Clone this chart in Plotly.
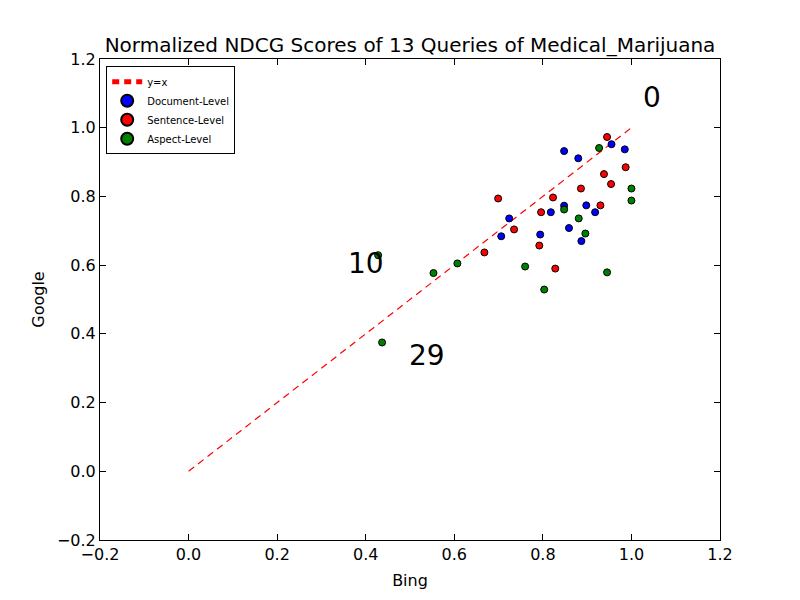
import plotly.graph_objects as go

# scores (Bing vs Google)
doc_bing = [0.848, 0.880, 0.955, 0.985, 0.724, 0.706, 0.818, 0.848, 0.898, 0.918, 0.859, 0.794, 0.887]
doc_google = [0.932, 0.911, 0.952, 0.937, 0.736, 0.684, 0.754, 0.773, 0.774, 0.754, 0.708, 0.689, 0.670]

sent_bing = [0.945, 0.987, 0.938, 0.954, 0.886, 0.823, 0.699, 0.796, 0.930, 0.735, 0.792, 0.828, 0.668]
sent_google = [0.973, 0.885, 0.865, 0.836, 0.823, 0.797, 0.794, 0.754, 0.774, 0.704, 0.657, 0.590, 0.637]

asp_bing = [0.927, 1.000, 1.000, 0.848, 0.881, 0.896, 0.760, 0.803, 0.945, 0.428, 0.553, 0.607, 0.437]
asp_google = [0.941, 0.823, 0.788, 0.762, 0.736, 0.692, 0.596, 0.529, 0.579, 0.629, 0.577, 0.605, 0.375]

line_x = [0, 1]
line_y = [0, 1]

labels = ["0", "10", "29"]
label_x = [1.047, 0.4005, 0.538]
label_y = [1.088, 0.606, 0.338]

ticks = [-0.2, 0.0, 0.2, 0.4, 0.6, 0.8, 1.0, 1.2]

fig = go.Figure()
fig.add_trace(go.Scatter(x=line_x, y=line_y, mode="lines", name="y=x",
                         line=dict(color="red", dash="7px,5px", width=1.2)))

def pts(x, y, name, color):
    return go.Scatter(x=x, y=y, mode="markers", name=name,
                      marker=dict(color=color, size=7, line=dict(color="black", width=1)))

fig.add_trace(pts(doc_bing, doc_google, "Document-Level", "#0000ff"))
fig.add_trace(pts(sent_bing, sent_google, "Sentence-Level", "#ff0000"))
fig.add_trace(pts(asp_bing, asp_google, "Aspect-Level", "#008000"))

for t, x, y in zip(labels, label_x, label_y):
    fig.add_annotation(x=x, y=y, text=t, showarrow=False,
                       font=dict(size=28, color="black"))

axis = dict(range=[-0.2, 1.2], tickvals=ticks, tickformat=".1f", ticks="inside",
            ticklen=6, tickcolor="black", showline=True, linecolor="black",
            linewidth=1, mirror="ticks", showgrid=False, zeroline=False,
            automargin=False, tickfont=dict(size=16, color="black"))

fig.update_layout(
    width=800, height=600,
    paper_bgcolor="white", plot_bgcolor="white",
    font=dict(family="DejaVu Sans", color="black"),
    margin=dict(l=92, r=88, t=51, b=68, autoexpand=False),
    title=dict(text="Normalized NDCG Scores of 13 Queries of Medical_Marijuana",
               x=0.5, xref="paper", xanchor="center", y=0.927, yanchor="bottom",
               font=dict(size=20)),
    xaxis=dict(axis, title=dict(text="Bing", font=dict(size=16), standoff=11)),
    yaxis=dict(axis, title=dict(text="Google", font=dict(size=16), standoff=8)),
    legend=dict(x=0.01, y=0.985, xanchor="left", yanchor="top",
                bordercolor="black", borderwidth=1, bgcolor="white",
                font=dict(size=10), tracegroupgap=0, itemsizing="constant"),
    showlegend=True,
)

fig.write_html("out.html")
